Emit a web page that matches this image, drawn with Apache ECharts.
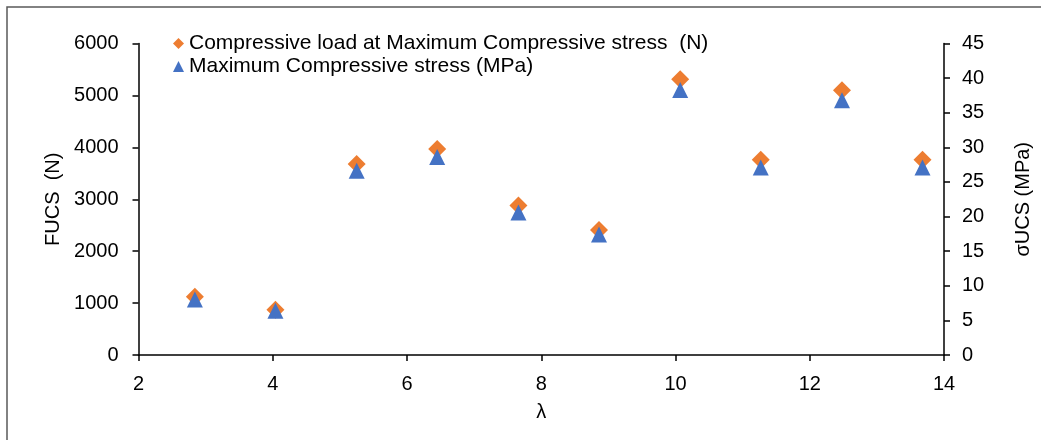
<!DOCTYPE html>
<html>
<head>
<meta charset="utf-8">
<script src="https://cdn.jsdelivr.net/npm/echarts@6/dist/echarts.min.js"></script>
<style>
  html, body { margin: 0; padding: 0; background: #fff; }
  #chart { width: 1041px; height: 440px; }
</style>
</head>
<body>
<div id="chart"></div>
<script>
// Slenderness ratio (λ) of each specimen
const lambda = [2.84, 4.04, 5.25, 6.45, 7.66, 8.86, 10.07, 11.27, 12.48, 13.68];
// Compressive load at maximum compressive stress, N
const loadN = [1120, 870, 3680, 3970, 2880, 2410, 5310, 3760, 5100, 3760];
// Maximum compressive stress, MPa
const stressMPa = [8.0, 6.4, 26.6, 28.6, 20.6, 17.4, 38.3, 27.1, 36.8, 27.1];

const loadName = 'Compressive load at Maximum Compressive stress  (N)';
const stressName = 'Maximum Compressive stress (MPa)';

const font = '"Liberation Sans", Arial, sans-serif';
const ink = '#000';

const pairs = (xs, ys) => xs.map((x, i) => [x, ys[i]]);
const plain = v => String(v);

const axisLine = { show: true, lineStyle: { color: ink, width: 1.5 } };
const axisTick = { show: true, length: 6, lineStyle: { color: ink, width: 1.5 } };

const chart = echarts.init(document.getElementById('chart'), null, { renderer: 'canvas' });
chart.setOption({
  animation: false,
  backgroundColor: '#fff',
  textStyle: { fontFamily: font },
  graphic: [{
    type: 'rect',
    shape: { x: 7, y: 7, width: 1200, height: 600 },
    style: { fill: 'none', stroke: '#595959', lineWidth: 1.5 },
    silent: true
  }],
  grid: { left: 138.5, right: 96, top: 43.5, bottom: 85, containLabel: false },
  legend: {
    orient: 'vertical',
    left: 173,
    top: 33,
    padding: 0,
    itemWidth: 11,
    itemHeight: 11,
    itemGap: 2,
    textStyle: { fontFamily: font, fontSize: 21, color: ink, lineHeight: 21 },
    data: [
      { name: loadName, icon: 'diamond' },
      { name: stressName, icon: 'triangle' }
    ]
  },
  xAxis: {
    type: 'value',
    min: 2, max: 14, interval: 2,
    name: 'λ',
    nameLocation: 'middle',
    nameGap: 47,
    nameTextStyle: { fontFamily: font, fontSize: 20, color: ink },
    axisLine, axisTick,
    splitLine: { show: false },
    axisLabel: { fontFamily: font, fontSize: 20, color: ink, margin: 19, formatter: plain }
  },
  yAxis: [{
    type: 'value',
    position: 'left',
    min: 0, max: 6000, interval: 1000,
    name: 'FUCS  (N)',
    nameLocation: 'middle',
    nameRotate: 90,
    nameGap: 69,
    nameTextStyle: { fontFamily: font, fontSize: 20, color: ink },
    axisLine, axisTick,
    splitLine: { show: false },
    axisLabel: { fontFamily: font, fontSize: 20, color: ink, margin: 20, formatter: plain }
  }, {
    type: 'value',
    position: 'right',
    min: 0, max: 45, interval: 5,
    name: 'σUCS (MPa)',
    nameLocation: 'middle',
    nameRotate: 90,
    nameGap: 69,
    nameTextStyle: { fontFamily: font, fontSize: 20, color: ink },
    axisLine, axisTick,
    splitLine: { show: false },
    axisLabel: { fontFamily: font, fontSize: 20, color: ink, margin: 18, formatter: plain }
  }],
  series: [{
    name: loadName,
    type: 'scatter',
    yAxisIndex: 0,
    symbol: 'diamond',
    symbolSize: 18,
    itemStyle: { color: '#ED7D31', opacity: 1 },
    data: pairs(lambda, loadN),
    z: 2
  }, {
    name: stressName,
    type: 'scatter',
    yAxisIndex: 1,
    symbol: 'triangle',
    symbolSize: [16, 16],
    itemStyle: { color: '#4472C4', opacity: 1 },
    data: pairs(lambda, stressMPa),
    z: 3
  }]
});
</script>
</body>
</html>
